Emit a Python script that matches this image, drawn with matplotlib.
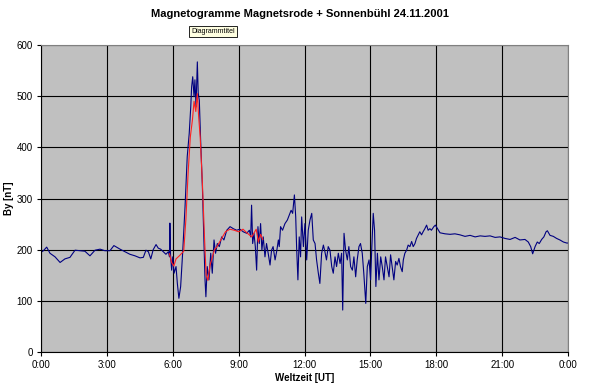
import matplotlib
matplotlib.use("Agg")
import matplotlib.pyplot as plt

plt.rcParams['font.family'] = ['Liberation Sans', 'DejaVu Sans']

# Magnetsrode (blue) - time in hours UT, By in nT
t_blue = [0.0, 0.11, 0.26, 0.41, 0.64, 0.87, 1.09, 1.32, 1.55, 1.78, 2.0, 2.23, 2.46, 2.69,
          2.91, 3.14, 3.32, 3.6, 3.83, 4.05, 4.28, 4.51, 4.66, 4.78, 4.89, 5.0, 5.11, 5.24,
          5.34, 5.45, 5.57, 5.69, 5.8, 5.85, 5.87, 5.9, 5.95, 6.0, 6.06, 6.15, 6.21, 6.28,
          6.36, 6.45, 6.56, 6.66, 6.75, 6.82, 6.86, 6.91, 6.97, 7.01, 7.06, 7.12, 7.16,
          7.21, 7.27, 7.35, 7.42, 7.47, 7.51, 7.57, 7.65, 7.73, 7.8, 7.88, 7.95, 8.03, 8.12,
          8.23, 8.33, 8.46, 8.61, 8.76, 8.91, 9.06, 9.21, 9.37, 9.49, 9.55, 9.59, 9.64,
          9.7, 9.76, 9.82, 9.88, 9.94, 10.0, 10.06, 10.12, 10.2, 10.27, 10.35, 10.43, 10.5,
          10.57, 10.66, 10.73, 10.81, 10.85, 10.91, 11.0, 11.11, 11.22, 11.31, 11.39, 11.46,
          11.54, 11.6, 11.64, 11.7, 11.76, 11.82, 11.87, 11.95, 12.02, 12.1, 12.17, 12.25,
          12.33, 12.4, 12.48, 12.55, 12.63, 12.7, 12.78, 12.86, 12.93, 13.0, 13.08, 13.16,
          13.24, 13.31, 13.39, 13.46, 13.54, 13.62, 13.69, 13.74, 13.8, 13.87, 13.95, 14.02,
          14.1, 14.18, 14.25, 14.33, 14.4, 14.48, 14.55, 14.63, 14.7, 14.79, 14.86, 14.94,
          15.01, 15.06, 15.13, 15.19, 15.25, 15.32, 15.39, 15.47, 15.54, 15.62, 15.69, 15.77,
          15.85, 15.92, 16.0, 16.07, 16.15, 16.22, 16.3, 16.37, 16.45, 16.5, 16.57, 16.65,
          16.72, 16.8, 16.88, 16.95, 17.03, 17.1, 17.18, 17.25, 17.33, 17.4, 17.48, 17.56,
          17.63, 17.71, 17.78, 17.89, 17.96, 18.06, 18.17, 18.4, 18.63, 18.85, 19.08, 19.31,
          19.54, 19.77, 20.0, 20.22, 20.45, 20.68, 20.9, 21.13, 21.36, 21.59, 21.81, 22.04,
          22.19, 22.3, 22.39, 22.5, 22.6, 22.69, 22.8, 22.9, 23.0, 23.06, 23.18, 23.33,
          23.48, 23.63, 23.79, 23.94, 24.0]
by_blue = [195, 198, 205, 193, 186, 175, 182, 185, 199, 198, 197, 188, 199, 201,
           198, 198, 208, 201, 196, 191, 188, 184, 185, 199, 196, 182, 200, 210,
           203, 201, 196, 191, 196, 186, 252, 190, 160, 186, 154, 167, 134, 105,
           128, 193, 284, 382, 427, 479, 518, 538, 499, 532, 479, 567, 506,
           492, 414, 323, 219, 141, 108, 167, 141, 193, 154, 219, 193, 212, 206,
           225, 219, 238, 245, 241, 238, 240, 235, 232, 238, 225, 287, 212,
           232, 206, 160, 245, 212, 251, 199, 225, 186, 212, 192, 170, 199,
           206, 180, 196, 219, 206, 245, 238, 251, 258, 268, 277, 271,
           307, 264, 206, 141, 225, 186, 264, 206, 251, 180, 238, 258,
           271, 219, 212, 180, 154, 134, 193, 209, 196, 180, 206, 199,
           167, 154, 186, 167, 193, 173, 193, 82, 232, 199, 180, 206,
           167, 160, 186, 147, 180, 206, 212, 193, 154, 95, 167, 180,
           141, 199, 271, 238, 128, 193, 141, 186, 167, 141, 186, 167,
           147, 190, 164, 141, 177, 170, 183, 167, 157, 180, 193, 199,
           209, 206, 216, 206, 212, 222, 229, 235, 229, 235, 241, 248,
           238, 241, 238, 245, 248, 241, 233, 231, 230, 231, 229, 226,
           228, 225, 227, 226, 227, 224, 225, 222, 220, 224, 219, 220,
           215, 206, 192, 206, 215, 212, 220, 225, 235, 237, 228, 226,
           222, 219, 215, 213, 213]

# Sonnenbühl (red)
t_red = [5.85, 5.95, 6.05, 6.15, 6.3, 6.5, 6.6, 6.7, 6.8, 6.9, 6.97, 7.05, 7.12, 7.18,
         7.25, 7.35, 7.45, 7.52, 7.6, 7.7, 7.8, 7.9, 8.0, 8.2, 8.4, 8.6, 8.8, 9.0, 9.2,
         9.4, 9.6, 9.8, 9.9, 10.0, 10.1]
by_red = [192, 175, 168, 182, 188, 197, 260, 350, 420, 455, 490, 470, 505, 460,
          420, 330, 220, 150, 140, 170, 185, 200, 205, 220, 235, 240, 238, 235, 240,
          232, 225, 240, 215, 230, 220]

tick_hours = [0, 3, 6, 9, 12, 15, 18, 21, 24]
tick_labels = ["0:00", "3:00", "6:00", "9:00", "12:00", "15:00", "18:00", "21:00", "0:00"]
y_ticks = [0, 100, 200, 300, 400, 500, 600]

fig = plt.figure(figsize=(6.0, 3.91), dpi=100)
ax = fig.add_axes([0.0683, 0.0997, 0.8784, 0.7852])
ax.set_facecolor('#C0C0C0')

ax.plot(t_red, by_red, color='#FF2020', lw=0.8, zorder=3)
ax.plot(t_blue, by_blue, color='#000080', lw=0.8, zorder=2)

ax.set_xlim(0, 24)
ax.set_ylim(0, 600)
ax.set_xticks(tick_hours)
ax.set_xticklabels(tick_labels)
ax.set_yticks(y_ticks)
ax.grid(True, color='black', lw=0.8, zorder=1)
ax.set_axisbelow(True)

for s in ['top', 'right']:
    ax.spines[s].set_color('#808080')
    ax.spines[s].set_linewidth(0.8)
for s in ['left', 'bottom']:
    ax.spines[s].set_color('black')
    ax.spines[s].set_linewidth(0.8)

ax.tick_params(axis='both', labelsize=7, length=3, width=0.8, direction='out',
               colors='black', pad=3)

ax.set_xlabel('Weltzeit [UT]', fontsize=7, fontweight='bold', labelpad=2)
ax.set_ylabel('By [nT]', fontsize=7, fontweight='bold')
ax.yaxis.set_label_coords(-0.052, 0.5)
fig.text(0.5, 0.965, 'Magnetogramme Magnetsrode + Sonnenbühl 24.11.2001',
         ha='center', va='center', fontsize=8, fontweight='bold')
fig.text(0.355, 0.92, 'Diagrammtitel', ha='center', va='center', fontsize=5,
         bbox=dict(boxstyle='square,pad=0.25', facecolor='#FFFFE1', edgecolor='black', lw=0.6))

fig.savefig('out.png', dpi=100)
